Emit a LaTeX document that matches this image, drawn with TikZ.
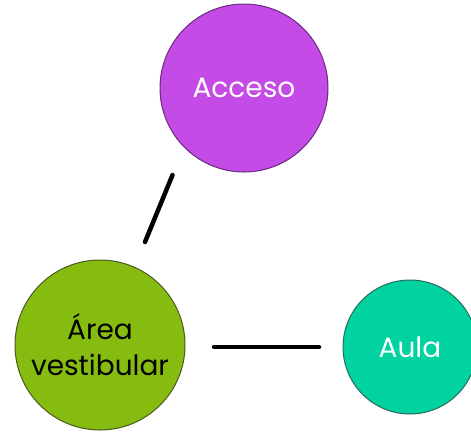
\documentclass[tikz,border=0pt]{standalone}
\usepackage{fontspec}
\setmainfont{Poppins}
\definecolor{accfill}{HTML}{C44BE6}
\definecolor{accdraw}{HTML}{6B2A80}
\definecolor{arefill}{HTML}{86BC10}
\definecolor{aredraw}{HTML}{4A5A20}
\definecolor{aulfill}{HTML}{00D3A0}
\definecolor{auldraw}{HTML}{2B6B5E}
\tikzset{
  bubble/.style={circle, inner sep=0pt, line width=1pt, font=\fontsize{28}{36}\selectfont, align=center},
  link/.style={line width=4.5pt, line cap=round, black}
}
\begin{document}
\begin{tikzpicture}[x=1pt,y=-1pt]
\useasboundingbox (0,0) rectangle (471,432);
\node[bubble, fill=accfill, draw=accdraw, minimum size=168pt, text=white] (acc) at (244,88) {Acceso};
\node[bubble, fill=arefill, draw=aredraw, minimum size=170pt, text=black] (are) at (100,345) {Área\\vestibular};
\node[bubble, fill=aulfill, draw=auldraw, minimum size=134pt, text=white] (aul) at (410,347) {Aula};
\coordinate (l1a) at (172.5,175);
\coordinate (l1b) at (145,242);
\coordinate (l2a) at (214,347);
\coordinate (l2b) at (319,347);
\draw[link] (l1a) -- (l1b);
\draw[link] (l2a) -- (l2b);
\end{tikzpicture}
\end{document}
